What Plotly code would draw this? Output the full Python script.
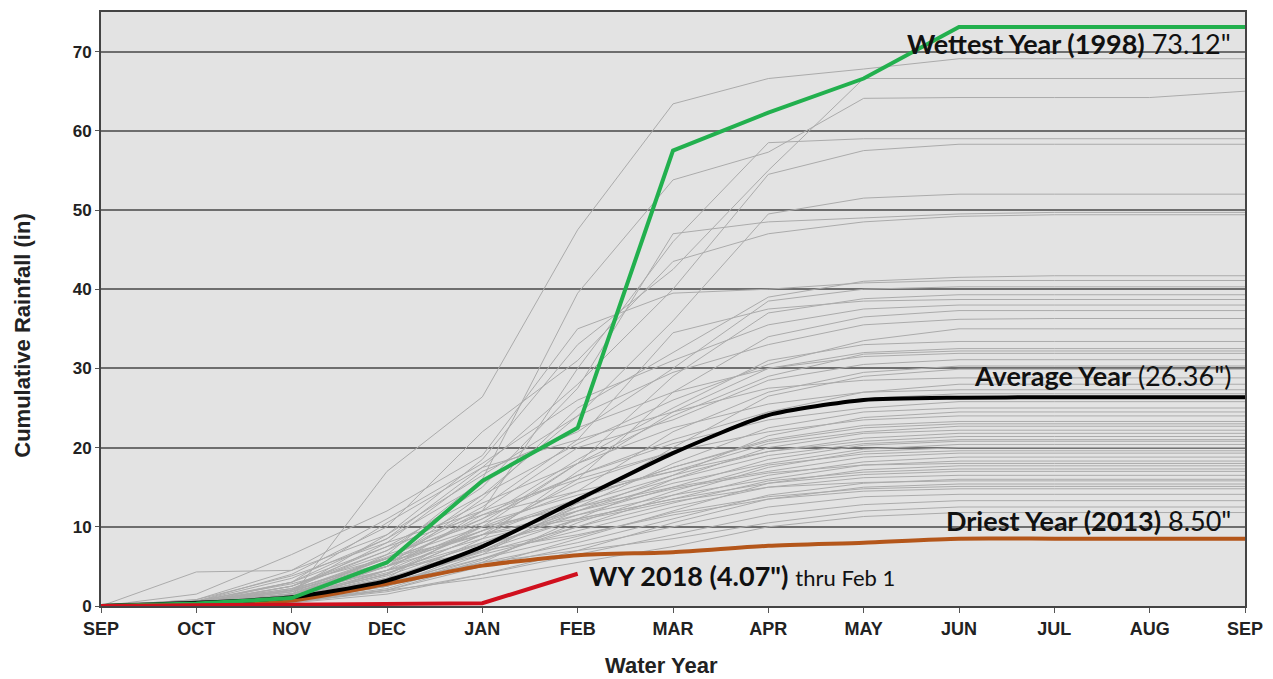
import plotly.graph_objects as go

months = ["SEP", "OCT", "NOV", "DEC", "JAN", "FEB", "MAR", "APR", "MAY", "JUN", "JUL", "AUG", "SEP"]
x_idx = list(range(len(months)))

gray_years = [
    [0, 0.3, 1.2, 17.0, 26.4, 47.5, 63.4, 66.6, 67.8, 69.1, 69.1, 69.1, 69.1],
    [0, 0.2, 1.0, 6.5, 16.0, 39.5, 53.8, 57.3, 64.1, 64.2, 64.2, 64.2, 65.0],
    [0, 0.4, 2.0, 9.0, 18.5, 33.0, 42.5, 55.0, 66.6, 66.6, 66.6, 66.6, 66.6],
    [0, 0.1, 0.6, 4.5, 12.0, 30.0, 46.0, 58.5, 59.0, 59.0, 59.0, 59.0, 59.0],
    [0, 0.5, 3.0, 8.5, 17.5, 28.0, 40.0, 54.5, 57.5, 58.3, 58.3, 58.3, 58.3],
    [0, 0.2, 1.5, 5.5, 14.0, 24.0, 36.0, 49.5, 51.5, 52.0, 52.0, 52.0, 52.0],
    [0, 0.3, 2.5, 7.0, 15.0, 27.5, 47.0, 48.5, 49.0, 49.5, 49.7, 49.7, 49.7],
    [0, 0.6, 4.0, 10.0, 22.0, 31.0, 43.5, 47.0, 48.5, 49.2, 49.4, 49.4, 49.4],
    [0, 0.2, 1.0, 5.0, 13.5, 25.0, 32.0, 39.0, 41.0, 41.5, 41.7, 41.7, 41.7],
    [0, 1.5, 6.5, 12.0, 19.0, 35.0, 39.5, 40.0, 40.8, 41.1, 41.1, 41.1, 41.1],
    [0, 0.4, 2.0, 8.0, 17.0, 22.0, 30.0, 38.5, 40.0, 40.3, 40.3, 40.3, 40.3],
    [0, 0.1, 0.8, 3.5, 10.5, 18.0, 29.0, 37.0, 38.8, 39.3, 39.3, 39.3, 39.3],
    [0, 0.3, 1.8, 6.0, 12.5, 21.0, 34.5, 37.5, 38.5, 38.7, 38.7, 38.7, 38.7],
    [0, 0.8, 4.5, 11.0, 18.0, 26.0, 31.0, 35.5, 37.5, 38.0, 38.0, 38.0, 38.0],
    [0, 0.2, 1.2, 4.0, 9.0, 16.0, 27.0, 34.0, 36.5, 37.3, 37.3, 37.3, 37.3],
    [0, 4.3, 4.5, 9.0, 16.5, 24.0, 29.5, 33.0, 35.5, 36.2, 36.3, 36.3, 36.3],
    [0, 0.5, 2.5, 7.5, 14.0, 20.5, 26.0, 30.5, 33.5, 35.0, 35.0, 35.0, 35.0],
    [0, 0.3, 1.0, 5.5, 11.0, 18.5, 25.0, 31.0, 33.0, 33.4, 33.4, 33.4, 33.4],
    [0, 0.1, 0.5, 3.0, 8.5, 17.0, 24.5, 30.0, 32.0, 32.5, 32.5, 32.5, 32.5],
    [0, 0.6, 3.5, 8.5, 15.5, 22.5, 27.0, 30.0, 31.5, 31.9, 31.9, 31.9, 31.9],
    [0, 0.2, 1.5, 6.0, 12.0, 20.0, 23.5, 28.5, 30.5, 31.1, 31.1, 31.1, 31.1],
    [0, 0.4, 2.0, 5.0, 10.0, 14.5, 22.0, 27.0, 29.5, 30.3, 30.3, 30.3, 30.3],
    [0, 0.1, 0.7, 2.5, 6.5, 13.0, 20.0, 26.5, 29.0, 29.9, 29.9, 29.9, 29.9],
    [0, 0.3, 3.0, 10.5, 17.5, 21.0, 24.5, 27.5, 28.5, 28.8, 28.8, 28.8, 28.8],
    [0, 0.2, 1.0, 4.5, 9.5, 15.5, 19.5, 24.5, 27.0, 28.0, 28.0, 28.0, 28.0],
    [0, 0.5, 2.2, 7.0, 13.0, 18.0, 22.5, 25.5, 27.0, 27.3, 27.3, 27.3, 27.3],
    [0, 0.3, 1.5, 5.0, 11.5, 16.5, 20.5, 23.5, 25.0, 25.8, 25.8, 25.8, 25.8],
    [0, 0.1, 0.6, 3.0, 7.0, 12.5, 18.0, 22.5, 24.5, 25.0, 25.0, 25.0, 25.0],
    [0, 0.8, 3.8, 8.0, 12.0, 16.0, 19.5, 22.0, 23.5, 24.0, 24.0, 24.0, 24.0],
    [0, 0.2, 1.2, 4.0, 9.0, 13.5, 17.5, 21.0, 22.8, 23.3, 23.3, 23.3, 23.3],
    [0, 0.4, 2.5, 6.5, 10.5, 14.0, 17.0, 20.5, 22.0, 22.7, 22.7, 22.7, 22.7],
    [0, 0.1, 0.4, 2.0, 5.5, 11.0, 16.0, 20.0, 21.8, 22.2, 22.2, 22.2, 22.2],
    [0, 0.3, 1.8, 5.5, 9.5, 13.0, 16.5, 19.5, 21.2, 21.8, 21.8, 21.8, 21.8],
    [0, 0.6, 3.0, 7.5, 11.5, 14.5, 17.0, 19.5, 20.8, 21.4, 21.4, 21.4, 21.4],
    [0, 0.2, 0.9, 3.5, 7.5, 11.5, 15.0, 18.5, 20.3, 20.8, 20.8, 20.8, 20.8],
    [0, 0.4, 1.5, 4.5, 8.0, 12.0, 15.5, 18.0, 19.8, 20.4, 20.4, 20.4, 20.4],
    [0, 0.1, 0.7, 2.5, 6.0, 10.0, 14.0, 17.5, 19.5, 20.0, 20.0, 20.0, 20.0],
    [0, 0.5, 2.0, 6.0, 10.0, 12.5, 15.0, 17.0, 18.8, 19.3, 19.3, 19.3, 19.3],
    [0, 0.2, 1.0, 3.0, 7.0, 11.0, 13.5, 16.5, 18.2, 18.8, 18.8, 18.8, 18.8],
    [0, 0.3, 1.5, 5.0, 8.5, 11.5, 14.0, 16.0, 17.8, 18.3, 18.3, 18.3, 18.3],
    [0, 0.1, 0.5, 2.0, 5.0, 8.5, 12.0, 15.5, 17.2, 17.7, 17.7, 17.7, 17.7],
    [0, 0.6, 2.8, 6.0, 9.0, 11.0, 13.5, 15.5, 16.6, 17.0, 17.0, 17.0, 17.0],
    [0, 0.2, 1.2, 3.5, 6.5, 9.5, 12.5, 15.0, 16.2, 16.5, 16.5, 16.5, 16.5],
    [0, 0.3, 0.8, 2.5, 5.5, 8.0, 11.0, 14.0, 15.5, 16.0, 16.0, 16.0, 16.0],
    [0, 0.1, 0.4, 1.5, 4.0, 7.0, 10.5, 13.5, 15.0, 15.4, 15.4, 15.4, 15.4],
    [0, 0.4, 1.8, 4.5, 7.0, 9.0, 11.5, 13.5, 14.5, 14.8, 14.8, 14.8, 14.8],
    [0, 0.2, 0.9, 2.8, 5.0, 7.5, 10.0, 12.5, 13.8, 14.1, 14.1, 14.1, 14.1],
    [0, 0.1, 0.5, 1.8, 4.0, 6.5, 9.0, 11.5, 12.8, 13.3, 13.3, 13.3, 13.3],
    [0, 0.3, 1.2, 3.0, 5.5, 7.0, 8.5, 10.5, 12.0, 12.5, 12.5, 12.5, 12.5],
    [0, 0.2, 0.7, 2.0, 3.5, 5.5, 7.5, 10.0, 11.3, 11.8, 11.8, 11.8, 11.8],
    [0, 0.3, 1.0, 3.8, 8.0, 12.5, 16.0, 19.0, 20.5, 21.0, 21.0, 21.0, 21.0],
    [0, 0.1, 0.6, 2.2, 5.8, 10.5, 14.5, 17.8, 19.2, 19.6, 19.6, 19.6, 19.6],
    [0, 0.5, 2.2, 5.5, 9.0, 12.0, 14.8, 16.8, 17.8, 18.0, 18.0, 18.0, 18.0],
    [0, 0.2, 0.8, 3.2, 6.8, 10.0, 13.0, 15.8, 16.9, 17.3, 17.3, 17.3, 17.3],
    [0, 0.4, 1.4, 4.2, 7.8, 10.8, 13.2, 15.0, 15.6, 15.8, 15.8, 15.8, 15.8],
    [0, 0.2, 1.0, 3.0, 6.0, 8.8, 11.8, 13.8, 14.8, 15.1, 15.1, 15.1, 15.1],
    [0, 0.3, 1.6, 5.0, 9.5, 13.5, 17.5, 20.8, 22.5, 23.0, 23.0, 23.0, 23.0],
    [0, 0.1, 0.5, 2.5, 7.0, 12.0, 16.5, 21.5, 23.8, 24.5, 24.5, 24.5, 24.5],
    [0, 0.4, 2.0, 6.2, 11.0, 16.5, 21.0, 24.5, 26.2, 26.8, 26.8, 26.8, 26.8],
    [0, 0.2, 1.2, 4.0, 10.0, 18.0, 24.0, 29.0, 31.8, 32.2, 32.2, 32.2, 32.2],
]

wettest_1998 = [0, 0.3, 1.0, 5.5, 15.8, 22.5, 57.5, 62.3, 66.6, 73.1, 73.12, 73.12, 73.12]
average_year = [0, 0.4, 1.1, 3.2, 7.5, 13.4, 19.3, 24.1, 26.0, 26.3, 26.36, 26.36, 26.36]
driest_2013 = [0, 0.2, 0.7, 2.8, 5.1, 6.4, 6.8, 7.6, 8.0, 8.5, 8.5, 8.5, 8.5]
wy_2018 = [0, 0.1, 0.2, 0.3, 0.35, 4.07]

y_ticks = [0, 10, 20, 30, 40, 50, 60, 70]

fig = go.Figure()

gx, gy = [], []
for yr in gray_years:
    gx += x_idx + [None]
    gy += yr + [None]
fig.add_trace(go.Scatter(x=gx, y=gy, mode="lines", line=dict(color="#ababab", width=1),
                         hoverinfo="skip", showlegend=False))

fig.add_trace(go.Scatter(x=x_idx, y=driest_2013, mode="lines",
                         line=dict(color="#b4561a", width=4, shape="spline", smoothing=0.6),
                         showlegend=False))
fig.add_trace(go.Scatter(x=x_idx, y=average_year, mode="lines",
                         line=dict(color="#000000", width=4, shape="spline", smoothing=0.6),
                         showlegend=False))
fig.add_trace(go.Scatter(x=x_idx, y=wettest_1998, mode="lines",
                         line=dict(color="#22b04e", width=4),
                         showlegend=False))
fig.add_trace(go.Scatter(x=x_idx[:len(wy_2018)], y=wy_2018, mode="lines",
                         line=dict(color="#d0101e", width=4),
                         showlegend=False))

ann_font = dict(family="Lato, 'Open Sans', sans-serif", size=27, color="#111111")
fig.add_annotation(x=11.87, y=71.0, xref="x", yref="y", xanchor="right", yanchor="middle",
                   text="<b>Wettest Year (1998)</b> 73.12\"", showarrow=False, font=ann_font)
fig.add_annotation(x=11.87, y=29.1, xref="x", yref="y", xanchor="right", yanchor="middle",
                   text="<b>Average Year</b> (26.36\")", showarrow=False, font=ann_font)
fig.add_annotation(x=11.87, y=10.75, xref="x", yref="y", xanchor="right", yanchor="middle",
                   text="<b>Driest Year (2013)</b> 8.50\"", showarrow=False, font=ann_font)
fig.add_annotation(x=5.1, y=3.85, xref="x", yref="y", xanchor="left", yanchor="middle",
                   text="<b>WY 2018 (4.07\")</b> <span style='font-size:22px'>thru Feb 1</span>",
                   showarrow=False, font=ann_font)

title_font = dict(family="Arial, 'Liberation Sans', sans-serif", color="#222222")
fig.add_annotation(x=0, y=0.455, xref="paper", yref="paper", xanchor="center", yanchor="middle",
                   xshift=-78, textangle=-90, showarrow=False,
                   text="<b>Cumulative Rainfall (in)</b>", font=dict(size=22, **title_font))
fig.add_annotation(x=0.49, y=0, xref="paper", yref="paper", xanchor="center", yanchor="middle",
                   yshift=-59, showarrow=False, borderpad=0,
                   text="<b>Water Year</b>", font=dict(size=22, **title_font))

fig.update_xaxes(
    range=[0, 12], tickvals=x_idx, ticktext=["<b>%s</b>" % m for m in months],
    showgrid=False, zeroline=False, showline=True, linecolor="#444444", linewidth=2,
    mirror=True, ticks="outside", ticklen=5, tickcolor="#555555",
    ticklabeloverflow="allow",
    tickfont=dict(size=18, **title_font),
)
fig.update_yaxes(
    range=[0, 75], tickvals=y_ticks, ticktext=["<b>%d</b>" % v for v in y_ticks],
    showgrid=True, gridcolor="#6e6e6e", gridwidth=1.5, zeroline=False,
    showline=True, linecolor="#444444", linewidth=2, mirror=True,
    ticks="outside", ticklen=4, tickcolor="#555555",
    tickfont=dict(size=17, **title_font),
)

fig.update_layout(
    width=1273, height=679,
    margin=dict(l=101, r=26, t=10, b=73),
    plot_bgcolor="#e3e3e3", paper_bgcolor="#ffffff",
    showlegend=False,
)

fig.write_html("out.html", config={"displayModeBar": False},
               post_script="document.body.style.margin='0';document.body.style.overflow='hidden';")
